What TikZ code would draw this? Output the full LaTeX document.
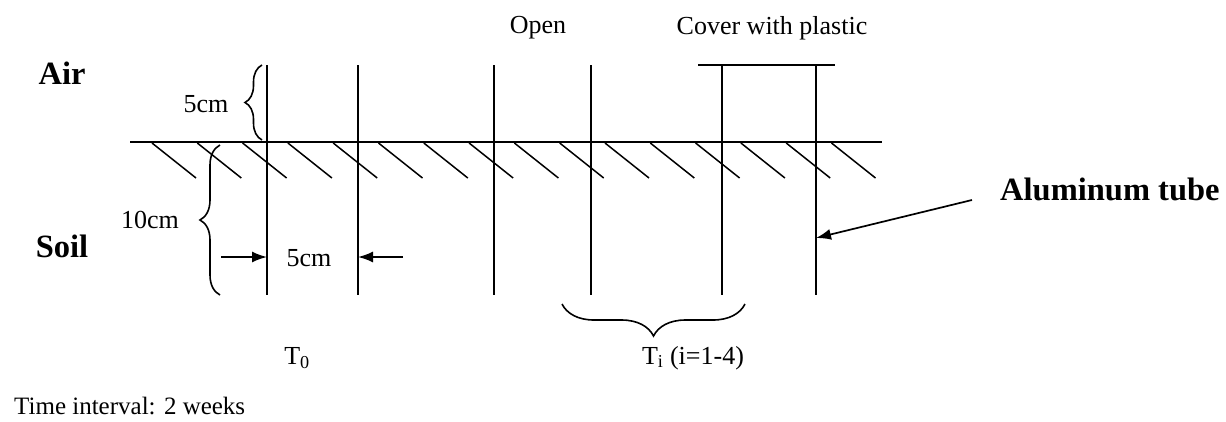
\documentclass[tikz,border=0pt]{standalone}
\usepackage{fontspec}
\setmainfont{Liberation Serif}
\usetikzlibrary{decorations.pathreplacing,arrows.meta}
\begin{document}
\begin{tikzpicture}[x=1pt,y=-1pt,
  ln/.style={line width=1.7pt,black},
  small/.style={font=\fontsize{26}{30}\selectfont,inner sep=0pt},
  big/.style={font=\fontsize{32.5}{36}\selectfont\bfseries,inner sep=0pt},
  brc/.style={ln,line width=1.6pt,decorate,decoration={brace,amplitude=#1}},
  dimarr/.style={ln,-{Latex[length=15pt,width=11pt]}}]
\useasboundingbox (0,0) rectangle (1226,421);
% ground
\coordinate (g1) at (130,142);
\coordinate (g2) at (882,142);
\draw[ln] (g1) -- (g2);
\foreach \k in {0,...,15}{
  \draw[ln,line width=1.5pt] ({152+45.3*\k},143) -- ({196+45.3*\k},178);
}
% tubes
\foreach \n/\x in {a/267,b/358,c/494,d/591,e/722,f/816}{
  \coordinate (\n-top) at (\x,65);
  \coordinate (\n-bot) at (\x,295);
  \draw[ln] (\n-top) -- (\n-bot);
}
% plastic cover
\coordinate (pc1) at (698,65);
\coordinate (pc2) at (835,65);
\draw[ln] (pc1) -- (pc2);
% braces
\coordinate (b1s) at (262,140);
\coordinate (b1e) at (262,65);
\draw[brc=17pt] (b1s) -- (b1e);
\coordinate (b2s) at (220,295);
\coordinate (b2e) at (220,145);
\draw[brc=20pt] (b2s) -- (b2e);
\coordinate (b3s) at (745,304);
\coordinate (b3e) at (562,304);
\draw[brc=32pt] (b3s) -- (b3e);
% dimension arrows
\coordinate (d1) at (221,257);
\coordinate (d2) at (403,257);
\draw[dimarr] (d1) -- (a-bot |- d1);
\draw[dimarr] (d2) -- (b-bot |- d2);
% aluminium arrow
\node[big,anchor=west] (alu) at (1000,189) {Aluminum tube};
\coordinate (alustart) at (972,200);
\coordinate (alutip) at (816,238);
\draw[dimarr] (alustart) -- (alutip);
% labels
\node[big] (air) at (62,73) {Air};
\node[big] (soil) at (62,246) {Soil};
\node[small] (five1) at (206,104) {5cm};
\node[small] (ten) at (150,220) {10cm};
\node[small] (five2) at (309,258) {5cm};
\node[small] (open) at (538,28) {Open};
\node[small] (cover) at (772,28) {Cover with plastic};
\node[small] (t0) at (297,358) {T\textsubscript{0}};
\node[small] (ti) at (693,358) {T\textsubscript{i} (i=1-4)};
\node[small,anchor=west,font=\fontsize{25}{30}\selectfont] (time) at (14,406) {Time interval: 2 weeks};
\end{tikzpicture}
\end{document}
